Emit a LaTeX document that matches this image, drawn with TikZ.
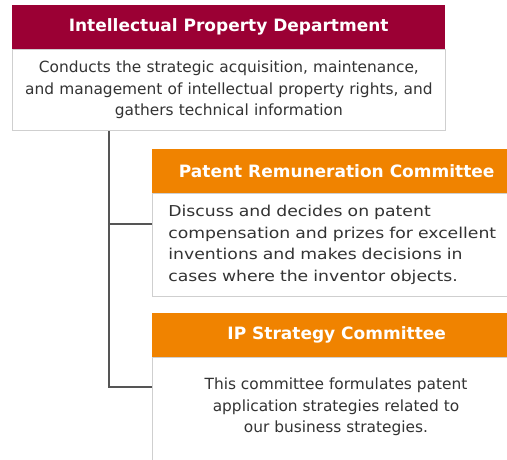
\documentclass[tikz,border=0pt]{standalone}
\usepackage{fontspec}
\setmainfont{DejaVu Sans}
\newfontfamily\widebodyfont[FakeStretch=1.15]{DejaVu Sans}
\newfontfamily\plainbodyfont{DejaVu Sans}
\definecolor{ipred}{HTML}{9B0034}
\definecolor{iporange}{HTML}{F08300}
\definecolor{bordergray}{HTML}{CFCFCF}
\definecolor{txtgray}{HTML}{333333}
\definecolor{linegray}{HTML}{555555}
\tikzset{
  hdr/.style={fill=#1, draw=none, anchor=north west, inner sep=0pt, text=white,
    font=\fontsize{17}{20}\selectfont\bfseries},
  bodybox/.style={draw=bordergray, line width=0.8pt, fill=white, anchor=north west, inner sep=0pt,
    text=txtgray, font=\plainbodyfont\fontsize{15.4}{21.5}\selectfont},
  conn/.style={draw=linegray, line width=1.2pt},
}
\begin{document}
\begin{tikzpicture}[x=1pt,y=-1pt]
\useasboundingbox (0,0) rectangle (507,459);
\clip (0,0) rectangle (507,459);
% top department
\node[bodybox, minimum width=433pt, minimum height=81pt, align=center, text width=433pt] (ipdbody) at (12,49)
  {Conducts the strategic acquisition, maintenance,\\and management of intellectual property rights, and\\gathers technical information};
\node[hdr=ipred, minimum width=433pt, minimum height=44pt] (ipd) at (12,5) {Intellectual Property Department};
% patent remuneration committee
\node[bodybox, minimum width=369pt, minimum height=103pt, align=left, text width=337pt, inner xsep=16pt,
  font=\widebodyfont\fontsize{15}{21.7}\selectfont] (prcbody) at (152,193)
  {Discuss and decides on patent\\compensation and prizes for excellent\\inventions and makes decisions in\\cases where the inventor objects.};
\node[hdr=iporange, minimum width=369pt, minimum height=44pt] (prc) at (152,149) {Patent Remuneration Committee};
% IP strategy committee
\node[bodybox, minimum width=369pt, minimum height=130pt, anchor=north west] (ipsbody) at (152,357) {};
\node[text=txtgray, font=\plainbodyfont\fontsize{15.4}{21.5}\selectfont, align=center] (ipstext) at (336,407)
  {This committee formulates patent\\application strategies related to\\our business strategies.};
\node[hdr=iporange, minimum width=369pt, minimum height=44pt] (ips) at (152,313) {IP Strategy Committee};
% connectors
\coordinate (trunk) at (109,131);
\coordinate (b1) at (prcbody.north west |- 0,224);
\coordinate (b2) at (ipsbody.north west |- 0,387);
\draw[conn] (trunk) |- (b1);
\draw[conn] (trunk) |- (b2);
\end{tikzpicture}
\end{document}
